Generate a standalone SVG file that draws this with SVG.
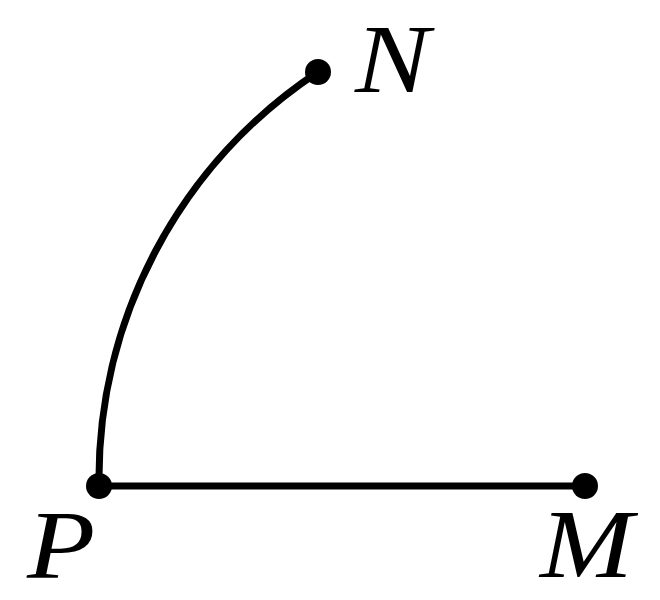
<svg xmlns="http://www.w3.org/2000/svg" width="660" height="600" viewBox="0 0 660 600">
<style>
.ln{fill:none;stroke:#000;stroke-width:7;stroke-linecap:round}
.pt{fill:#000}
</style>
<rect width="660" height="600" fill="#fff"/>
<g id="connectors">
<path class="ln" d="M99 486 A488 488 0 0 1 318 72"/>
<path class="ln" d="M99 486 L585 486"/>
</g>
<g id="P"><circle class="pt" cx="99" cy="486" r="13"/><text transform="translate(27,578) scale(1.14,1)" font-family="Liberation Serif" font-style="italic" font-size="98">P</text></g>
<g id="M"><circle class="pt" cx="585" cy="486" r="13"/><text transform="translate(540,577) scale(1.14,1)" font-family="Liberation Serif" font-style="italic" font-size="98">M</text></g>
<g id="N"><circle class="pt" cx="318" cy="72" r="13"/><text transform="translate(355,92) scale(1.14,1)" font-family="Liberation Serif" font-style="italic" font-size="98">N</text></g>
</svg>
